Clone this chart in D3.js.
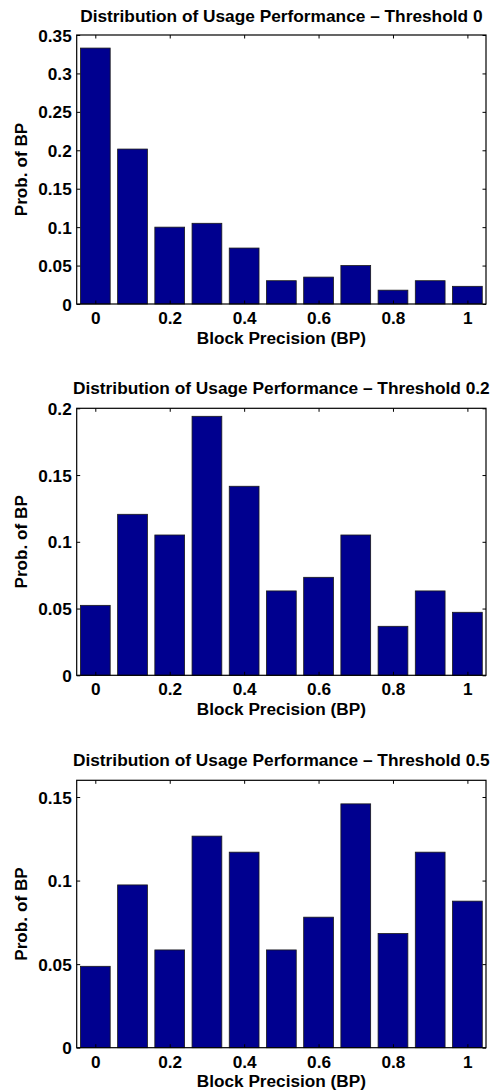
<!DOCTYPE html>
<html>
<head>
<meta charset="utf-8">
<script src="https://cdn.jsdelivr.net/npm/d3@7"></script>
<style>
  html, body { margin: 0; padding: 0; background: #fff; }
  svg { display: block; }
  text { font-family: "Liberation Sans", Arial, Helvetica, sans-serif; font-weight: bold; fill: #000; }
</style>
</head>
<body>
<svg id="chart" width="499" height="1092"></svg>
<script>
// ---- Data ----
const categories = [0, 0.1, 0.2, 0.3, 0.4, 0.5, 0.6, 0.7, 0.8, 0.9, 1.0];
const xTickValues = [0, 0.2, 0.4, 0.6, 0.8, 1];
const titles = [
  "Distribution of Usage Performance \u2013 Threshold 0",
  "Distribution of Usage Performance \u2013 Threshold 0.2",
  "Distribution of Usage Performance \u2013 Threshold 0.5"
];
const valuesT0  = [0.333, 0.2016, 0.100, 0.105, 0.0728, 0.0303, 0.035, 0.050, 0.018, 0.0303, 0.023];
const valuesT02 = [0.0524, 0.1206, 0.1051, 0.194, 0.1416, 0.0632, 0.0734, 0.1051, 0.0367, 0.0632, 0.0472];
const valuesT05 = [0.0487, 0.0974, 0.0585, 0.1266, 0.117, 0.0585, 0.0781, 0.1459, 0.0683, 0.117, 0.0877];
const yMaxes = [0.35, 0.2, 0.16];
const yTicksT0  = [0, 0.05, 0.1, 0.15, 0.2, 0.25, 0.3, 0.35];
const yTicksT02 = [0, 0.05, 0.1, 0.15, 0.2];
const yTicksT05 = [0, 0.05, 0.1, 0.15];
const xLabel = "Block Precision (BP)";
const yLabel = "Prob. of BP";

// ---- Layout ----
const panels = [
  { title: titles[0], values: valuesT0,  yMax: yMaxes[0], yTicks: yTicksT0,  top: 35,    bottom: 304,    titleGap: 12.7 },
  { title: titles[1], values: valuesT02, yMax: yMaxes[1], yTicks: yTicksT02, top: 408.3, bottom: 675.3,  titleGap: 14 },
  { title: titles[2], values: valuesT05, yMax: yMaxes[2], yTicks: yTicksT05, top: 780.3, bottom: 1047.7, titleGap: 14.6 }
];
const left = 76.7, right = 486;
const barColor = "#00008f";
const fontSize = 17.2;
const tickLen = 3.5;

const svg = d3.select("#chart");
const x = d3.scaleLinear().domain([-0.05, 1.05]).range([left, right]);
const step = x(0.1) - x(0);
const barW = step * 0.8;

const fmt = v => {
  if (v === 0) return "0";
  return String(+v.toFixed(2));
};

panels.forEach(p => {
  const g = svg.append("g");
  const y = d3.scaleLinear().domain([0, p.yMax]).range([p.bottom, p.top]);

  // bars
  g.selectAll("rect.bar").data(p.values).enter().append("rect")
    .attr("class", "bar")
    .attr("x", (d, i) => x(categories[i]) - barW / 2)
    .attr("width", barW)
    .attr("y", d => y(d))
    .attr("height", d => y(0) - y(d))
    .attr("fill", barColor)
    .attr("stroke", "#1a1a1a")
    .attr("stroke-width", 0.8);

  // axes: bottom & left with labels, top & right ticks only (inward)
  const xAxisB = d3.axisBottom(x).tickValues(xTickValues).tickSize(-tickLen).tickPadding(0).tickFormat(fmt);
  const xAxisT = d3.axisTop(x).tickValues(xTickValues).tickSize(-tickLen).tickFormat("");
  const yAxisL = d3.axisLeft(y).tickValues(p.yTicks).tickSize(-tickLen).tickPadding(0).tickFormat(fmt);
  const yAxisR = d3.axisRight(y).tickValues(p.yTicks).tickSize(-tickLen).tickFormat("");

  const gb = g.append("g").attr("transform", `translate(0,${p.bottom})`).call(xAxisB);
  const gt = g.append("g").attr("transform", `translate(0,${p.top})`).call(xAxisT);
  const gl = g.append("g").attr("transform", `translate(${left},0)`).call(yAxisL);
  const gr = g.append("g").attr("transform", `translate(${right},0)`).call(yAxisR);

  [gb, gt, gl, gr].forEach(a => {
    a.select(".domain").remove();
    a.selectAll(".tick line").attr("stroke", "#000").attr("stroke-width", 1);
  });

  gb.selectAll(".tick text")
    .attr("y", 20).attr("dy", null)
    .attr("font-size", fontSize).attr("font-family", null).attr("fill", "#000");
  gl.selectAll(".tick text")
    .attr("x", -5).attr("dy", "0.35em")
    .attr("font-size", fontSize).attr("font-family", null).attr("fill", "#000");

  // box
  g.append("rect")
    .attr("x", left).attr("y", p.top)
    .attr("width", right - left).attr("height", p.bottom - p.top)
    .attr("fill", "none").attr("stroke", "#000").attr("stroke-width", 1.2);

  const cx = (left + right) / 2;
  // title
  g.append("text")
    .attr("x", cx).attr("y", p.top - p.titleGap)
    .attr("text-anchor", "middle").attr("font-size", 17.3)
    .text(p.title);
  // x label
  g.append("text")
    .attr("x", cx).attr("y", p.bottom + 39.5)
    .attr("text-anchor", "middle").attr("font-size", fontSize)
    .text(xLabel);
  // y label
  g.append("text")
    .attr("transform", `translate(26.7,${(p.top + p.bottom) / 2}) rotate(-90)`)
    .attr("text-anchor", "middle").attr("font-size", fontSize)
    .text(yLabel);
});
</script>
</body>
</html>
